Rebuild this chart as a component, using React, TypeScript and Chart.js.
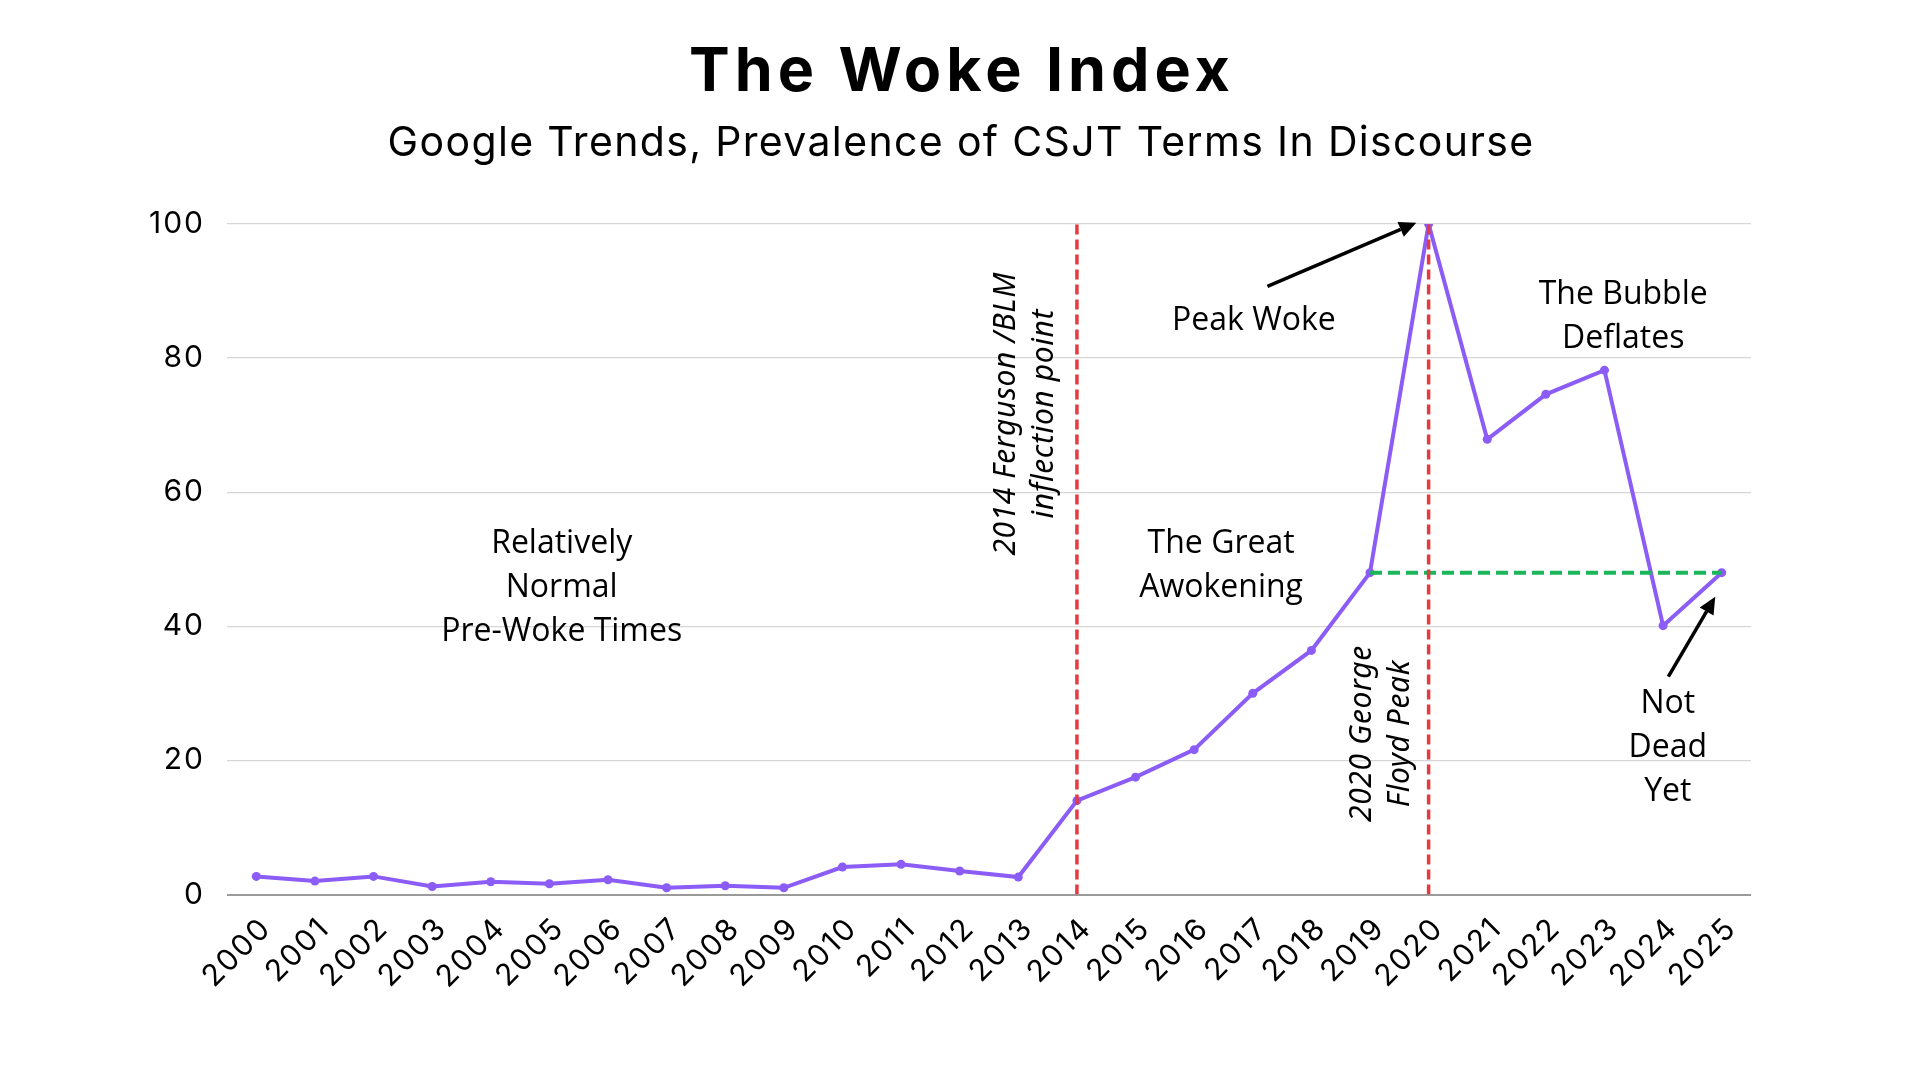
import React, { useEffect, useRef } from "react";
import { Chart, registerables } from "chart.js";

Chart.register(...registerables);

const years = [
  "2000", "2001", "2002", "2003", "2004", "2005", "2006", "2007", "2008", "2009",
  "2010", "2011", "2012", "2013", "2014", "2015", "2016", "2017", "2018", "2019",
  "2020", "2021", "2022", "2023", "2024", "2025",
];
const wokeIndex = [
  2.7, 2.0, 2.7, 1.2, 1.9, 1.6, 2.2, 1.0, 1.3, 1.0,
  4.1, 4.5, 3.5, 2.6, 14.0, 17.5, 21.6, 30.0, 36.4, 48.0,
  100, 67.9, 74.6, 78.2, 40.1, 48.0,
];
const yTicks = [0, 20, 40, 60, 80, 100];
const eventYears = ["2014", "2020"];
const levelLine = { from: "2019", to: "2025", value: 48 };

const titleText = "The Woke Index";
const subtitleText = "Google Trends, Prevalence of CSJT Terms In Discourse";

// annotation texts, anchored in data coordinates (category index, value)
const notes = [
  { lines: ["Relatively", "Normal", "Pre-Woke Times"], x: 5.21, y: 45.7 },
  { lines: ["The Great", "Awokening"], x: 16.46, y: 49.0 },
  { lines: ["Peak Woke"], x: 17.02, y: 85.6 },
  { lines: ["The Bubble", "Deflates"], x: 23.32, y: 86.2 },
  { lines: ["Not", "Dead", "Yet"], x: 24.08, y: 21.8 },
];
const rotatedNotes = [
  { lines: ["2014 Ferguson /BLM", "inflection point"], x: 13.12, y: 71.7 },
  { lines: ["2020 George", "Floyd Peak"], x: 19.2, y: 24.0 },
];
const arrows = [
  { x1: 17.25, y1: 90.7, x2: 19.79, y2: 100.2 },
  { x1: 24.09, y1: 32.5, x2: 24.89, y2: 44.4 },
];

const PURPLE = "#8b5cf6";
const RED = "#e53a3f";
const GREEN = "#1bb65a";

const spacingPlugin = {
  id: "spacing",
  beforeDraw(chart: any) {
    chart.ctx.letterSpacing = "2px";
  },
  beforeDatasetsDraw(chart: any) {
    chart.ctx.letterSpacing = "0px";
  },
};

const overlayPlugin = {
  id: "overlay",
  afterDraw(chart: any) {
    const { ctx } = chart;
    const xs = chart.scales.x;
    const ys = chart.scales.y;
    ctx.save();
    // Title & subtitle
    ctx.fillStyle = "#000";
    ctx.textAlign = "center";
    ctx.textBaseline = "alphabetic";
    ctx.font = 'bold 61px Inter, "Noto Sans", sans-serif';
    ctx.letterSpacing = "5px";
    ctx.fillText(titleText, 962, 91);
    ctx.font = '41px Inter, "Noto Sans", sans-serif';
    ctx.letterSpacing = "1.35px";
    ctx.fillText(subtitleText, 961, 156);
    ctx.letterSpacing = "0px";

    // horizontal notes
    ctx.font = '32px "Open Sans", "Noto Sans", sans-serif';
    ctx.textBaseline = "middle";
    const lh = 44;
    notes.forEach((n) => {
      const cx = xs.getPixelForValue(n.x);
      const cy = ys.getPixelForValue(n.y);
      n.lines.forEach((t, k) => {
        ctx.fillText(t, cx, cy + (k - (n.lines.length - 1) / 2) * lh);
      });
    });

    // rotated notes
    ctx.font = 'italic 30px "Noto Sans", sans-serif';
    ctx.letterSpacing = "0.6px";
    const rlh = 38;
    rotatedNotes.forEach((n) => {
      const cx = xs.getPixelForValue(n.x);
      const cy = ys.getPixelForValue(n.y);
      ctx.save();
      ctx.translate(cx, cy);
      ctx.rotate(-Math.PI / 2);
      n.lines.forEach((t, k) => {
        ctx.fillText(t, 0, (k - (n.lines.length - 1) / 2) * rlh);
      });
      ctx.restore();
    });
    ctx.letterSpacing = "0px";

    // arrows
    ctx.strokeStyle = "#000";
    ctx.fillStyle = "#000";
    ctx.lineWidth = 3.5;
    arrows.forEach((a) => {
      const x1 = xs.getPixelForValue(a.x1);
      const y1 = ys.getPixelForValue(a.y1);
      const x2 = xs.getPixelForValue(a.x2);
      const y2 = ys.getPixelForValue(a.y2);
      const ang = Math.atan2(y2 - y1, x2 - x1);
      const hl = 17;
      const hw = 8;
      const bx = x2 - hl * Math.cos(ang);
      const by = y2 - hl * Math.sin(ang);
      ctx.beginPath();
      ctx.moveTo(x1, y1);
      ctx.lineTo(bx, by);
      ctx.stroke();
      ctx.beginPath();
      ctx.moveTo(x2, y2);
      ctx.lineTo(bx + hw * Math.sin(ang), by - hw * Math.cos(ang));
      ctx.lineTo(bx - hw * Math.sin(ang), by + hw * Math.cos(ang));
      ctx.closePath();
      ctx.fill();
    });
    ctx.restore();
  },
};

export default function App() {
  const ref = useRef<HTMLCanvasElement>(null);
  useEffect(() => {
    document.body.style.margin = "0";
    const canvas = ref.current;
    if (!canvas) return;
    const eventDatasets = eventYears.map((yr) => ({
      type: "line" as const,
      data: [
        { x: yr, y: 0 },
        { x: yr, y: 100 },
      ],
      borderColor: RED,
      borderWidth: 3.5,
      borderDash: [10, 5],
      pointRadius: 0,
      fill: false,
    }));
    const chart = new Chart(canvas, {
      type: "line",
      data: {
        labels: years,
        datasets: [
          ...eventDatasets,
          {
            data: [
              { x: levelLine.from, y: levelLine.value },
              { x: levelLine.to, y: levelLine.value },
            ],
            borderColor: GREEN,
            borderWidth: 4,
            borderDash: [12, 6],
            pointRadius: 0,
            fill: false,
          },
          {
            data: wokeIndex,
            borderColor: PURPLE,
            backgroundColor: PURPLE,
            borderWidth: 4,
            pointRadius: 4.5,
            pointBackgroundColor: PURPLE,
            pointBorderWidth: 0,
            tension: 0,
            fill: false,
          },
        ] as any,
      },
      options: {
        animation: false,
        responsive: false,
        devicePixelRatio: 1,
        layout: { padding: { left: 0, right: 169, top: 224, bottom: 0 } },
        plugins: {
          legend: { display: false },
          tooltip: { enabled: false },
          title: { display: false },
        },
        scales: {
          x: {
            type: "category",
            offset: true,
            grid: { display: false },
            border: { display: false },
            ticks: {
              color: "#000",
              font: { family: "Inter", size: 30 },
              maxRotation: 45,
              minRotation: 45,
              padding: 8,
              labelOffset: 10,
              autoSkip: false,
            },
            afterFit(scale: any) {
              scale.height = 185.5;
            },
          },
          y: {
            min: 0,
            max: 100,
            afterBuildTicks(scale: any) {
              scale.ticks = yTicks.map((v) => ({ value: v }));
            },
            grid: {
              color: (c: any) => (c.tick && c.tick.value === 0 ? "#9a9a9a" : "#d6d6d6"),
              lineWidth: (c: any) => (c.tick && c.tick.value === 0 ? 2 : 1.2),
              drawTicks: false,
            },
            border: { display: false },
            ticks: {
              color: "#000",
              font: { family: "Inter", size: 30 },
              padding: 22,
            },
            afterFit(scale: any) {
              scale.width = 227;
            },
          },
        },
      },
      plugins: [spacingPlugin, overlayPlugin],
    });
    return () => chart.destroy();
  }, []);
  return <canvas ref={ref} width={1920} height={1080} style={{ display: "block" }} />;
}
